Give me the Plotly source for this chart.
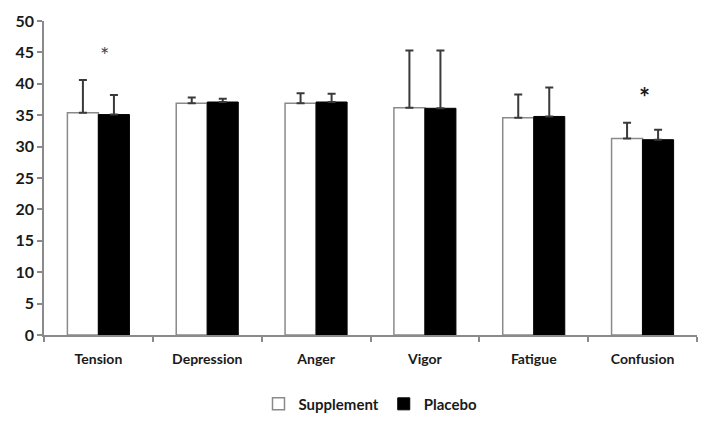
import plotly.graph_objects as go

categories = ["Tension", "Depression", "Anger", "Vigor", "Fatigue", "Confusion"]
supplement = [35.4, 36.9, 36.9, 36.2, 34.6, 31.3]
supplement_err = [5.2, 0.9, 1.6, 9.1, 3.7, 2.5]
placebo = [35.1, 37.1, 37.1, 36.1, 34.8, 31.1]
placebo_err = [3.1, 0.5, 1.3, 9.2, 4.6, 1.6]
y_ticks = [0, 5, 10, 15, 20, 25, 30, 35, 40, 45, 50]

FONT = "Lato"
TXT = "#1a1a1a"

fig = go.Figure()
fig.add_trace(go.Bar(
    name="Supplement", x=categories, y=supplement,
    marker=dict(color="white", line=dict(color="#8a8a8a", width=1.5)),
    error_y=dict(type="data", symmetric=False, array=supplement_err,
                 arrayminus=[0] * len(categories),
                 color="#3a3a3a", thickness=2, width=4),
))
fig.add_trace(go.Bar(
    name="Placebo", x=categories, y=placebo,
    marker=dict(color="black", line=dict(color="black", width=1)),
    error_y=dict(type="data", symmetric=False, array=placebo_err,
                 arrayminus=[0] * len(categories),
                 color="#3a3a3a", thickness=2, width=4),
))

fig.add_annotation(x="Tension", y=44.6, text="*", showarrow=False, xshift=6,
                   font=dict(family=FONT, size=22, color="#4a4a4a"))
fig.add_annotation(x="Confusion", y=37.9, text="<b>*</b>", showarrow=False, xshift=2,
                   font=dict(family=FONT, size=26, color=TXT))

fig.update_layout(
    width=715, height=433,
    margin=dict(l=44, r=18, t=21, b=89),
    paper_bgcolor="white", plot_bgcolor="white",
    barmode="group", bargap=0.43, bargroupgap=0,
    font=dict(family=FONT, size=14, color=TXT),
    showlegend=True,
    legend=dict(orientation="h", x=0.5, xanchor="center", y=-0.22, yanchor="middle",
                font=dict(family=FONT, size=15, color=TXT, weight="bold"), itemwidth=30,
                traceorder="normal", tracegroupgap=0),
    xaxis=dict(showline=True, linecolor="#8a8a8a", linewidth=1.5, automargin=False,
               ticks="outside", tickson="boundaries", ticklen=5, tickcolor="#8a8a8a",
               tickwidth=1.5, showgrid=False, ticklabelstandoff=10,
               tickfont=dict(family=FONT, size=14, color=TXT, weight="bold")),
    yaxis=dict(range=[0, 50], tickvals=y_ticks, showline=True, linecolor="#8a8a8a",
               linewidth=1.5, ticks="outside", ticklen=5, tickcolor="#8a8a8a",
               tickwidth=1.5, showgrid=False, zeroline=False, automargin=False,
               tickfont=dict(family=FONT, size=16, color=TXT, weight="bold")),
)

fig.write_html(
    "out.html",
    config={"displayModeBar": False},
    post_script="document.body.style.margin='0px';document.body.style.overflow='hidden';",
)
